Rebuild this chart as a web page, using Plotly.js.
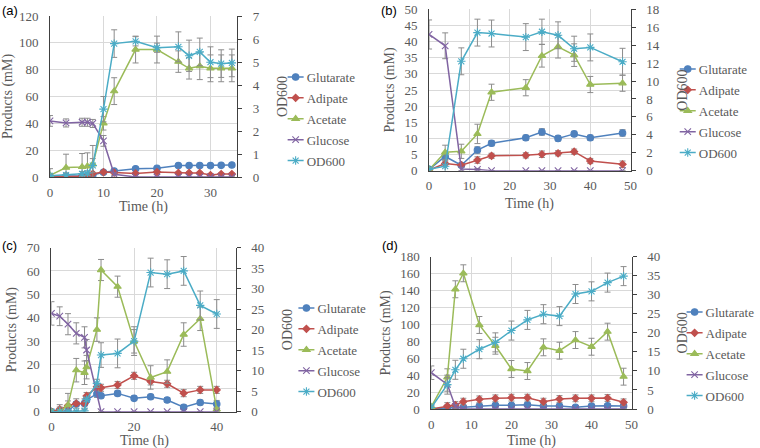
<!DOCTYPE html>
<html><head><meta charset="utf-8">
<script src="https://cdn.plot.ly/plotly-3.0.1.min.js"></script>
<style>html,body{margin:0;padding:0;background:#fff}</style>
</head><body><div id="chart" style="width:760px;height:448px"></div>
<script>
// ---------- DATA ----------
const seriesNames = ['Glutarate','Adipate','Acetate','Glucose','OD600'];
const panelLabels = ['(a)','(b)','(c)','(d)'];

// Panel (a)
const timeA = [0,3,6,7,8,10,12,16,20,24,26,28,30,32,34];
const glutA = [0.5,0.5,0.5,1,1.5,3.5,4.5,6.2,6.5,8.5,8.5,8.5,8.5,8.7,9];
const glutAErr = [0.5,0.5,0.5,0.5,0.5,0.8,1,1,1,1,1,1,1,1,1];
const adipA = [0.2,0.2,0.5,1,2.5,3.7,3.2,2.7,3.7,3,3,3,1.5,2.2,2.2];
const adipAErr = [0.3,0.3,0.3,0.5,0.5,0.8,0.8,0.8,0.8,0.8,0.8,0.8,0.8,0.8,0.8];
const acetA = [1.2,7,7.5,8,9.5,40,64,95,95,86,81,82.6,81,81,81];
const acetAErr = [5,10,10,10,14,5,10,10,10,8,8,10,10,10,10];
const glucA = [41.8,40.3,40.8,40.8,39.9,26.9,2,0,0,0,0,0,0,0,0];
const glucAErr = [4,3,3,3,3,4,1,0,0,0,0,0,0,0,0];
const odA = [0.05,0.08,0.14,0.17,0.5,2.95,5.8,5.9,5.62,5.66,5.27,5.44,4.99,4.93,4.96];
const odAErr = [0.05,0.1,0.1,0.1,0.3,0.55,0.6,0.2,0.2,0.65,0.68,0.6,0.67,0.6,0.6];

// Panel (b)
const timeB = [0,4,8,12,15.5,24,28,32,36,40,48];
const glutB = [0.4,4.4,1.7,6.4,8.5,10.2,12,10,11.4,10.2,11.7];
const glutBErr = [0.3,1,0.5,1,0.8,0.8,1,0.8,0.8,0.8,1];
const adipB = [0.2,2.2,1.7,3.3,4.6,4.75,5.1,5.4,5.9,3,2];
const adipBErr = [0.2,0.8,0.5,1,0.8,0.8,1,0.8,0.8,0.8,1];
const acetB = [0.3,5.7,6,11.4,24.3,25.7,35.6,38.4,35.8,26.7,27.1];
const acetBErr = [0.5,2.2,2.2,3,2.5,2.5,3.5,3.5,3.5,2.5,2.5];
const glucB = [42.2,38.7,0.5,0.4,0,0,0,0,0,0,0];
const glucBErr = [4.5,4,0.5,0.3,0,0,0,0,0,0,0];
const odB = [0.15,0.5,12.2,15.4,15.3,14.9,15.5,15.1,13.6,13.75,12.15];
const odBErr = [0.1,0.6,1.5,1.5,1.5,1.5,1.4,1.5,1.4,1.5,1.5];

// Panel (c)
const timeC = [0,2,4,6,8,8.5,11,12,16,20,24,28,32,36,40];
const glutC = [0,0,0.3,3.3,3.5,5,7.6,6.8,7.8,5.7,6.4,5,1.9,3.9,3.3];
const glutCErr = [0.3,0.3,0.5,1,1,1,1.5,1,1,1,1,1,1,1,1.5];
const adipC = [0,1,2.6,3.5,3.5,6.7,10.6,10.2,11.4,15.3,12.9,11.9,7.9,9.3,9.3];
const adipCErr = [0.3,2,2,2,2,1.5,1.5,1.5,1.5,1.5,1.5,1.5,1.5,1.5,1.5];
const acetC = [0,0,2.8,17.7,16.6,19,35,60.4,53.3,30,14.6,17.1,32.9,39.6,1];
const acetCErr = [0.3,2,5,5,5,5,5,4.5,4.5,5,5,5,5,5,0.5];
const glucC = [41.9,40.7,37.3,33.4,31.7,26.3,null,0,0,0,0,0,0,0,0];
const glucCErr = [5,4,4.5,4.5,4.5,4.5,null,0,0,0,0,0,0,0,0];
const odC = [0,0,0,0.1,0.2,3,6.9,13.8,14.2,17.2,33.9,33.5,34.3,25.9,23.8];
const odCErr = [0,0,0,0.2,0.3,0.5,1,3,3.5,3.5,3.5,3.5,3.5,3.5,3.5];

// Panel (d)
const timeD = [0,4,6,8,12,16,20,24,28,32,36,40,44,48];
const glutD = [0,1.6,2,2,3.5,4.3,4.3,5.1,3.5,3.5,2,3.5,3.9,3.5];
const glutDErr = [1,2,2,2,2,2,2,2,2,2,2,2,2,2];
const adipD = [0,3.5,4.7,8.7,11.4,12.6,13.4,13.4,8.7,11.8,12.6,12.6,13,7.9];
const adipDErr = [1,4,4,4,4,4,4,4,4,4,4,4,4,4];
const acetD = [2.7,37.5,141.5,160.4,99.3,74.8,47.3,44.9,72.9,68.9,81.5,73.6,91.4,38.2];
const acetDErr = [3,10,10,10,10,10,10,10,10,10,10,10,10,10];
const glucD = [42.9,29,3,0,0,0,0,0,0,0,0,0,0,0];
const glucDErr = [8,8,2,0,0,0,0,0,0,0,0,0,0,0];
const odD = [0.4,6.4,10.3,13.2,15.7,17.5,20.6,23.4,24.9,24.4,30.2,30.9,33.2,34.9];
const odDErr = [0.5,2.5,2.5,2.5,2.5,2.5,2.5,2.5,2.5,2.5,2.5,2.5,2.5,2.5];

// ---------- STYLE ----------
const W = 760, H = 448;
const fx = v => v / W, fy = v => 1 - v / H;
const FONT = 'Liberation Serif, Times New Roman, serif';
const styles = [
  {color:'#4F81BD', symbol:'circle', size:6.5},
  {color:'#C0504D', symbol:'diamond', size:5.5},
  {color:'#9BBB59', symbol:'triangle-up', size:6.5},
  {color:'#8064A2', symbol:'x-thin-open', size:6.5},
  {color:'#4BACC6', symbol:'asterisk-open', size:7}
];

const panels = [
  {xa:'x', ya:'y', yb:'y2', leg:'legend', time:timeA,
   vals:[glutA,adipA,acetA,glucA,odA], errs:[glutAErr,adipAErr,acetAErr,glucAErr,odAErr],
   xdom:[51,242], ydom:[16,177], xr:[0,35], xd:10, yl:[0,120], yld:20, yr:[0,7], yrd:1,
   legX:272, legY:62, lab:[0,10], tt:[146,207]},
  {xa:'x2', ya:'y3', yb:'y4', leg:'legend2', time:timeB,
   vals:[glutB,adipB,acetB,glucB,odB], errs:[glutBErr,adipBErr,acetBErr,glucBErr,odBErr],
   xdom:[437.7,643.3], ydom:[9.3,170.7], xr:[0,50], xd:10, yl:[0,50], yld:5, yr:[0,18], yrd:2,
   legX:672, legY:54, lab:[387,10], tt:[540,204]},
  {xa:'x3', ya:'y5', yb:'y6', leg:'legend3', time:timeC,
   vals:[glutC,adipC,acetC,glucC,odC], errs:[glutCErr,adipCErr,acetCErr,glucCErr,odCErr],
   xdom:[52.5,240.5], ydom:[247.5,411.7], xr:[0,44.6], xd:20, yl:[0,70], yld:10, yr:[0,40], yrd:5,
   legX:283, legY:293, lab:[0,245], tt:[147,441]},
  {xa:'x4', ya:'y7', yb:'y8', leg:'legend4', time:timeD,
   vals:[glutD,adipD,acetD,glucD,odD], errs:[glutDErr,adipDErr,acetDErr,glucDErr,odDErr],
   xdom:[440,644.3], ydom:[256.7,409], xr:[0,50], xd:10, yl:[0,180], yld:20, yr:[0,40], yrd:5,
   legX:679, legY:297, lab:[388,245], tt:[542,441]}
];

const traces = [];
const layout = {
  width: W, height: H, margin:{l:0,r:0,t:0,b:0},
  paper_bgcolor:'#fff', plot_bgcolor:'rgba(0,0,0,0)',
  font:{family:FONT, size:13, color:'#595959'},
  annotations: []
};

panels.forEach((p, pi) => {
  p.vals.forEach((v, si) => {
    const st = styles[si];
    traces.push({
      type:'scatter', mode:'lines+markers', name:seriesNames[si],
      x:p.time, y:v, xaxis:p.xa, yaxis: si === 4 ? p.yb : p.ya,
      connectgaps:true, legend:p.leg, legendgroup:'g'+pi+'_'+si,
      line:{color:st.color, width:1.5},
      marker:{color:st.color, symbol:st.symbol, size:st.size, line:{color:st.color, width:1.1}},
      error_y:{type:'data', array:p.errs[si], visible:true, color:'#8c8c8c', thickness:1, width:3},
      cliponaxis:true
    });
  });
  const xk = 'xaxis' + (pi ? pi+1 : '');
  const ylk = 'yaxis' + (2*pi ? 2*pi+1 : '');
  const yrk = 'yaxis' + (2*pi+2);
  layout[xk] = {
    domain:[fx(p.xdom[0]), fx(p.xdom[1])], anchor:p.ya, range:p.xr, dtick:p.xd, tick0:0,
    showgrid:true, gridcolor:'#d9d9d9', gridwidth:1, zeroline:false,
    showline:true, linecolor:'#404040', linewidth:1, ticks:'', ticklabelstandoff:3,
    tickfont:{family:FONT, size:13, color:'#595959'},
    automargin:false, fixedrange:true
  };
  layout[ylk] = {
    domain:[fy(p.ydom[1]), fy(p.ydom[0])], anchor:p.xa, range:p.yl, dtick:p.yld, tick0:0,
    showgrid:true, gridcolor:'#d9d9d9', gridwidth:1, zeroline:false,
    showline:true, linecolor:'#404040', linewidth:1, ticks:'', ticklabelstandoff:8,
    tickfont:{family:FONT, size:13, color:'#595959'},
    title:{text:'Products (mM)', font:{family:FONT, size:14, color:'#595959'}, standoff:6},
    automargin:false, fixedrange:true
  };
  layout[yrk] = {
    domain:[fy(p.ydom[1]), fy(p.ydom[0])], anchor:p.xa, overlaying:p.ya, side:'right',
    range:p.yr, dtick:p.yrd, tick0:0, showgrid:false, zeroline:false,
    showline:true, linecolor:'#404040', linewidth:1, ticks:'outside', ticklen:4, tickcolor:'#404040',
    ticklabelstandoff:8,
    tickfont:{family:FONT, size:13, color:'#595959'},
    title:{text:'OD600', font:{family:FONT, size:14, color:'#595959'}, standoff:18},
    automargin:false, fixedrange:true
  };
  layout[p.leg] = {
    x: fx(p.legX), y: fy(p.legY), xanchor:'left', yanchor:'top',
    bgcolor:'rgba(0,0,0,0)', borderwidth:0, tracegroupgap:1,
    font:{family:FONT, size:13, color:'#595959'}, itemwidth:30
  };
  layout.annotations.push({
    text:panelLabels[pi], xref:'paper', yref:'paper', x:fx(p.lab[0]), y:fy(p.lab[1]),
    xanchor:'left', yanchor:'middle', showarrow:false,
    font:{family:'Liberation Sans, Arial, sans-serif', size:13, color:'#000'}
  });
  layout.annotations.push({
    text:'Time (h)', xref:'paper', yref:'paper', x:fx(p.tt[0]), y:fy(p.tt[1]),
    xanchor:'center', yanchor:'middle', showarrow:false,
    font:{family:FONT, size:14, color:'#595959'}
  });
});

Plotly.newPlot('chart', traces, layout, {staticPlot:true, displayModeBar:false}).then(gd => {
  // shorter legend keys, as in the reference
  gd.querySelectorAll('.legendlines path').forEach(p => p.setAttribute('d', 'M21,0h16'));
  gd.querySelectorAll('.legendpoints path.scatterpts').forEach(p => p.setAttribute('transform', 'translate(29,0)'));
});
</script></body></html>
